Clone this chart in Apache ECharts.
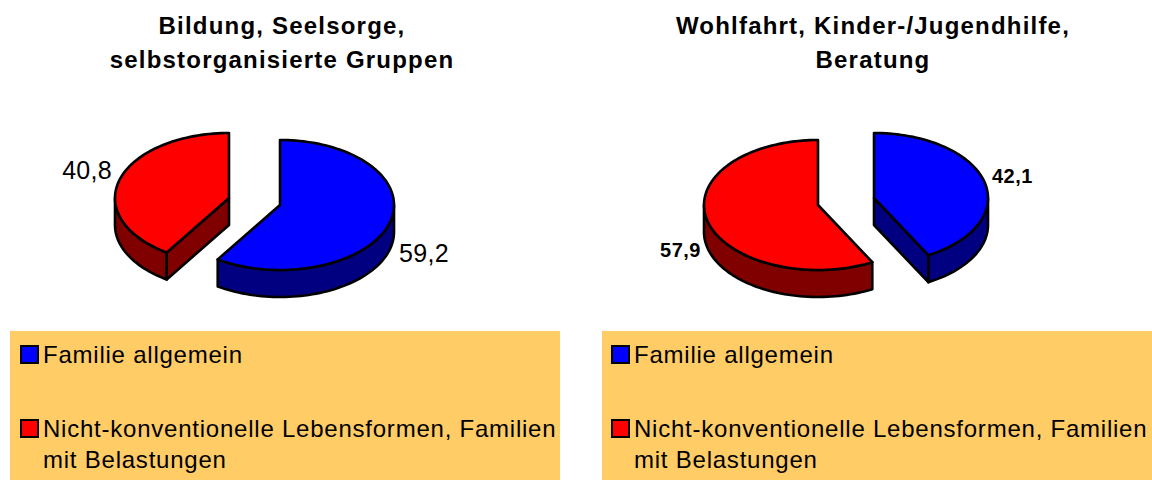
<!DOCTYPE html>
<html><head><meta charset="utf-8">
<style>html,body{margin:0;padding:0;background:#fff}#c{width:1152px;height:480px}
#c text[style*="24px"]{letter-spacing:.77px}
#c text[style*="24px"][style*="bold"]{letter-spacing:1.2px}
#c text[style*="25px"]{letter-spacing:.3px}
#c text[style*="20px"][style*="bold"]{letter-spacing:.5px}
</style>
<script src="https://cdn.jsdelivr.net/npm/echarts@6/dist/echarts.min.js"></script>
</head><body><div id="c"></div>
<script>
const categories = ['Familie allgemein', 'Nicht-konventionelle Lebensformen, Familien\nmit Belastungen'];
const titleLeft = 'Bildung, Seelsorge,\nselbstorganisierte Gruppen';
const titleRight = 'Wohlfahrt, Kinder-/Jugendhilfe,\nBeratung';
const valuesLeft = [59.2, 40.8];
const valuesRight = [42.1, 57.9];

const topColors = ['#0000ff', '#ff0000'];
const wallColors = ['#000080', '#800000'];
const FONT = '"Liberation Sans", Arial, sans-serif';
const RX = 114, RY = 65, DEPTH = 27;

// apex of every exploded slice and anchor of its value label
const layouts = [
  { values: valuesLeft, bold: false, size: 25, slices: [
    { cx: 280, cy: 205, lx: 399, ly: 253, align: 'left' },
    { cx: 229, cy: 198, lx: 112, ly: 170, align: 'right' } ] },
  { values: valuesRight, bold: true, size: 20, slices: [
    { cx: 874, cy: 198, lx: 992, ly: 176, align: 'left' },
    { cx: 818, cy: 205, lx: 701, ly: 250, align: 'right' } ] }
];

function pt(s, deg, dy) {
  const t = deg * Math.PI / 180;
  return [s.cx + RX * Math.sin(t), s.cy - RY * Math.cos(t) + (dy || 0)];
}
function arc(s, a0, a1, dy) {
  const out = [], n = Math.max(2, Math.ceil(Math.abs(a1 - a0) / 2));
  for (let i = 0; i <= n; i++) out.push(pt(s, a0 + (a1 - a0) * i / n, dy));
  return out;
}
function poly(points, fill) {
  return { type: 'polygon', shape: { points }, style: { fill, stroke: '#000', lineWidth: 2.6, lineJoin: 'round' } };
}
function makeSeries(p, i) {
  const L = layouts[p], s = L.slices[i];
  const total = L.values.reduce((a, b) => a + b, 0);
  const before = L.values.slice(0, i).reduce((a, b) => a + b, 0);
  return {
    type: 'custom', coordinateSystem: 'none', name: categories[i],
    itemStyle: { color: topColors[i] },
    data: [[L.values[i]]],
    renderItem(params, api) {
      const v = api.value(0);
      const a0 = before / total * 360, a1 = (before + v) / total * 360;
      const children = [];
      const b0 = Math.max(a0, 90), b1 = Math.min(a1, 270);
      if (b1 > b0) {
        children.push(poly(arc(s, b0, b1, 0).concat(arc(s, b1, b0, DEPTH)), wallColors[i]));
      }
      // radial wall that faces the viewer
      const apex = [s.cx, s.cy], apexLow = [s.cx, s.cy + DEPTH];
      [[a0, a0 > 180 && a0 < 360], [a1, a1 > 0 && a1 < 180]].forEach(([a, show]) => {
        if (show) children.push(poly([apex, pt(s, a, 0), pt(s, a, DEPTH), apexLow], wallColors[i]));
      });
      children.push(poly([apex].concat(arc(s, a0, a1, 0)), topColors[i]));
      children.push({ type: 'text', style: {
        text: v.toFixed(1).replace('.', ','), x: s.lx, y: s.ly,
        align: s.align, verticalAlign: 'middle', fill: '#000',
        font: (L.bold ? 'bold ' : '') + L.size + 'px ' + FONT } });
      return { type: 'group', children };
    }
  };
}
function makeLegend(left) {
  return {
    left, top: 339, height: 300, orient: 'vertical', itemWidth: 17, itemHeight: 17, itemGap: 12,
    padding: 0, selectedMode: false, icon: 'rect', align: 'left', itemStyle: { borderColor: '#000', borderWidth: 2 },
    textStyle: { fontFamily: FONT, fontSize: 24, color: '#000', lineHeight: 31 },
    // a leading empty line keeps the marker level with the first line of a wrapped name
    formatter: name => name.includes('\n') ? '\n' + name : name,
    data: categories.map(name => ({ name }))
  };
}
function makeTitle(text, x) {
  return { text, left: x, top: 8, textAlign: 'center', padding: 0,
    textStyle: { fontFamily: FONT, fontWeight: 'bold', fontSize: 24, lineHeight: 34, color: '#000' } };
}
const chart = echarts.init(document.getElementById('c'), null, { renderer: 'svg' });
chart.setOption({
  animation: false, backgroundColor: '#fff',
  title: [makeTitle(titleLeft, 282), makeTitle(titleRight, 873)],
  legend: [makeLegend(20), makeLegend(611)],
  graphic: [
    { type: 'rect', silent: true, shape: { x: 10, y: 331, width: 550, height: 149 }, style: { fill: '#ffcc66' } },
    { type: 'rect', silent: true, shape: { x: 602, y: 331, width: 550, height: 149 }, style: { fill: '#ffcc66' } }
  ],
  series: [makeSeries(0, 0), makeSeries(0, 1), makeSeries(1, 0), makeSeries(1, 1)]
});
</script></body></html>
